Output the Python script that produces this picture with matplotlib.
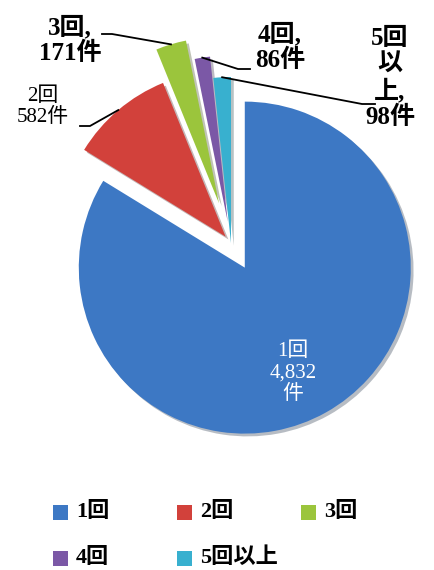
import matplotlib.pyplot as plt
import matplotlib.patheffects as pe
from matplotlib.patches import Rectangle
import numpy as np

labels = ['1回', '2回', '3回', '4回', '5回以上']
counts = [4832, 582, 171, 86, 98]
slice_text = ['1回\n4,832\n件', '2回\n582件', '3回,\n171件', '4回,\n86件', '5回\n以\n上,\n98件']
colors = ['#3d78c4', '#d2413b', '#9bc53c', '#7b58a6', '#38b0cf']
explode = [0.17, 0.05, 0.25, 0.13, 0.0]

jp_serif = ['Liberation Serif', 'DejaVu Serif', 'Noto Sans CJK JP']

W, H = 435, 570
R, cx, cy = 166, 231, 243   # pie radius / centre in pixels


def px(x, y):
    # pixel position -> data coords of the pie axes
    return (x - cx) / R, (cy - y) / R


fig = plt.figure(figsize=(W / 100, H / 100), dpi=100)
ax = fig.add_axes([0, 0, 1, 1])
wedges, _ = ax.pie(counts, colors=colors, explode=explode, startangle=90,
                   counterclock=False, radius=1, wedgeprops=dict(linewidth=0))
for w in wedges:
    w.set_path_effects([pe.SimplePatchShadow(offset=(2, -2), alpha=0.3), pe.Normal()])
ax.set_xlim(-cx / R, (W - cx) / R)
ax.set_ylim(-(H - cy) / R, cy / R)
ax.set_aspect('equal')
ax.axis('off')

# label inside the big slice
ax.text(*px(293, 373), slice_text[0], color='white', ha='center', va='center',
        fontsize=15, family=jp_serif, linespacing=1.2)

# outside labels: text centre, size, weight, elbow, end of leader line (pixels)
layout = {
    1: ((43, 107), 15, 'normal', (90, 126), (80, 126)),
    2: ((70, 40), 18, 'bold', (112, 34), (102, 34)),
    3: ((280, 47), 18, 'bold', (238, 69), (250, 69)),
    4: ((390, 78), 18, 'bold', (362, 104), (375, 104)),
}
for i, (pos, size, weight, elbow, end) in layout.items():
    w = wedges[i]
    mid = np.deg2rad((w.theta1 + w.theta2) / 2)
    sx = w.center[0] + w.r * np.cos(mid)
    sy = w.center[1] + w.r * np.sin(mid)
    ex, ey = px(*elbow)
    tx, ty = px(*end)
    ax.plot([sx, ex, tx], [sy, ey, ty], color='black', lw=1.3)
    ax.text(*px(*pos), slice_text[i], ha='center', va='center', fontsize=size,
            fontweight=weight, family=jp_serif, linespacing=1.15)

# legend, two rows
for i, lab in enumerate(labels):
    row, col = i // 3, i % 3
    x0 = 53 + 124 * col
    y0 = 512 + 46 * row
    fig.add_artist(Rectangle((x0 / W, 1 - (y0 + 8) / H), 15 / W, 15 / H,
                             transform=fig.transFigure, facecolor=colors[i],
                             edgecolor='none'))
    fig.text((x0 + 23) / W, 1 - y0 / H, lab, ha='left', va='center', fontsize=16,
             fontweight='bold', family=jp_serif)

fig.savefig('out.png', dpi=100)
